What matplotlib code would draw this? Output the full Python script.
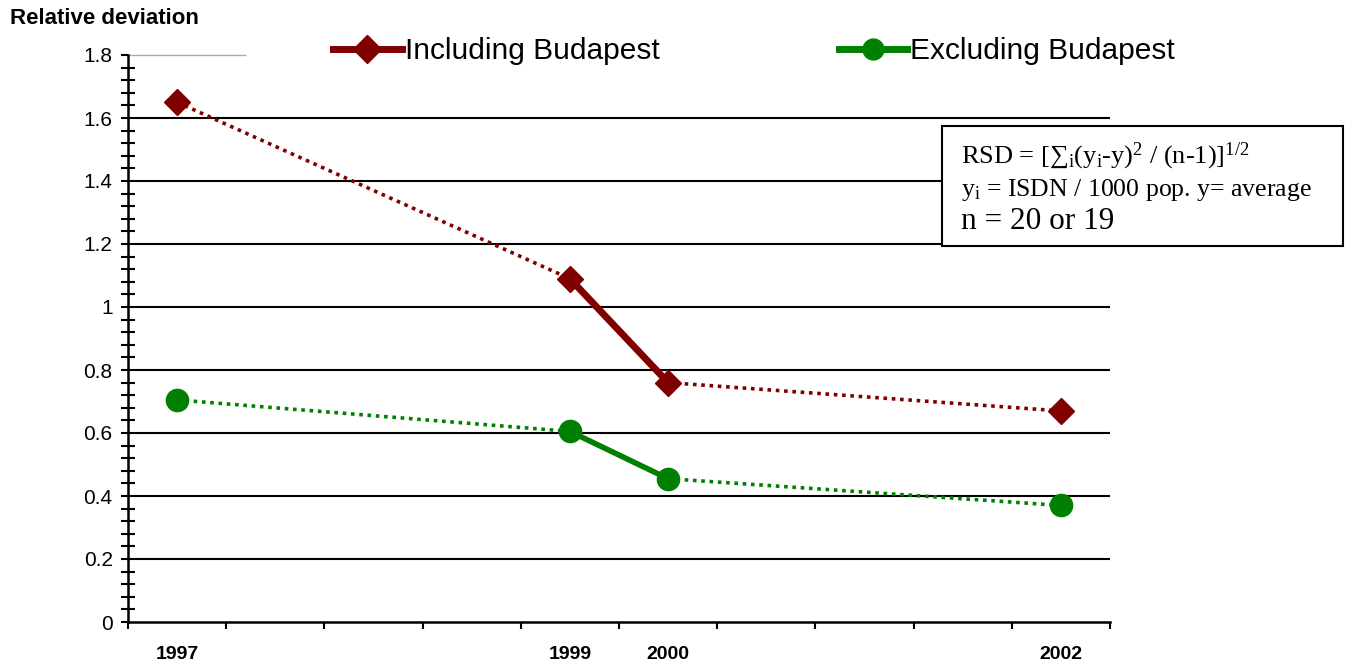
import numpy as np
import matplotlib.pyplot as plt
from matplotlib.patches import Rectangle
from matplotlib.lines import Line2D

plt.rcParams['font.family'] = ['Liberation Sans', 'DejaVu Sans']
plt.rcParams['mathtext.fontset'] = 'custom'
plt.rcParams['mathtext.rm'] = 'Liberation Serif'
plt.rcParams['mathtext.it'] = 'Liberation Serif:italic'

#%% data
years = ['1997', '1999', '2000', '2002']
slots = [0, 4, 5, 9]          # category slot of each year (10 slots on the axis)
incl = [1.65, 1.09, 0.76, 0.67]
excl = [0.705, 0.605, 0.455, 0.37]

red = '#800000'
green = '#008000'
serif = ['Liberation Serif', 'DejaVu Serif']

fig = plt.figure(figsize=(13.59, 6.65), dpi=100)
ax = fig.add_axes([128/1359, 43/665, 982/1359, 567/665])

x = np.array(slots) + 0.5

def draw_series(y, col, mk, ms, lw):
    # dotted pieces 1997-1999 and 2000-2002, solid piece 1999-2000
    ax.plot(x[0:2], y[0:2], ls=(0, (1, 1.3)), lw=2.6, color=col, zorder=3)
    ax.plot(x[2:4], y[2:4], ls=(0, (1, 1.3)), lw=2.6, color=col, zorder=3)
    ax.plot(x[1:3], y[1:3], ls='-', lw=lw, color=col, zorder=3)
    ax.plot(x, y, ls='none', marker=mk, ms=ms, color=col, zorder=4)

draw_series(incl, red, 'D', 13, 5)
draw_series(excl, green, 'o', 16, 4)

ax.set_xlim(0, 10)
ax.set_ylim(0, 1.8)

for g in np.arange(0.2, 1.7, 0.2):
    ax.axhline(g, color='black', lw=1.5, zorder=1)
ax.plot([0, 1.19], [1.8, 1.8], color='#aaaaaa', lw=1, zorder=1, clip_on=False)

ax.spines['top'].set_visible(False)
ax.spines['right'].set_visible(False)
ax.spines['left'].set_linewidth(1.8)
ax.spines['bottom'].set_linewidth(1.8)

ax.set_yticks(np.arange(0, 1.81, 0.2))
ax.set_yticklabels(['0', '0.2', '0.4', '0.6', '0.8', '1', '1.2', '1.4', '1.6', '1.8'])
ax.set_yticks(np.arange(0, 1.81, 0.04), minor=True)
ax.tick_params(axis='y', which='major', direction='out', length=5, width=1.5,
               labelsize=15, pad=6)
ax.tick_params(axis='y', which='minor', direction='inout', length=10, width=1.5)

ax.set_xticks(np.arange(0, 11))
ax.set_xticklabels([])
ax.set_xticks(x, minor=True)
ax.set_xticklabels(years, minor=True, fontweight='bold', fontsize=14)
ax.tick_params(axis='x', which='major', direction='out', length=5, width=1.5)
ax.tick_params(axis='x', which='minor', length=0, pad=17)

fig.text(10/1359, 1 - 18/665, 'Relative deviation', fontweight='bold',
         fontsize=16, va='center', ha='left')

handles = [Line2D([], [], color=red, lw=5, marker='D', ms=14),
           Line2D([], [], color=green, lw=5, marker='o', ms=15)]
fig.legend(handles, ['Including Budapest', 'Excluding Budapest'], ncol=2,
           frameon=False, fontsize=21.5, loc='center left',
           bbox_to_anchor=(333/1359, 1 - 51/665), handlelength=2.3,
           handletextpad=0.1, columnspacing=6.0, borderaxespad=0, borderpad=0)

box = Rectangle((942/1359, 1 - 246/665), 401/1359, 120/665, transform=fig.transFigure,
                facecolor='white', edgecolor='black', lw=1.5, zorder=5)
fig.patches.append(box)
fig.text(961/1359, 1 - 163/665,
         r'RSD = [∑$_{\mathrm{i}}$(y$_{\mathrm{i}}$-y)$^{2}$ / (n-1)]$^{1/2}$',
         family=serif, fontsize=19, va='baseline', zorder=6)
fig.text(961/1359, 1 - 196/665,
         r'y$_{\mathrm{i}}$ = ISDN / 1000 pop. y= average',
         family=serif, fontsize=18.5, va='baseline', zorder=6)
fig.text(961/1359, 1 - 229/665, 'n = 20 or 19',
         family=serif, fontsize=22.5, va='baseline', zorder=6)

fig.savefig('out.png', dpi=100)
